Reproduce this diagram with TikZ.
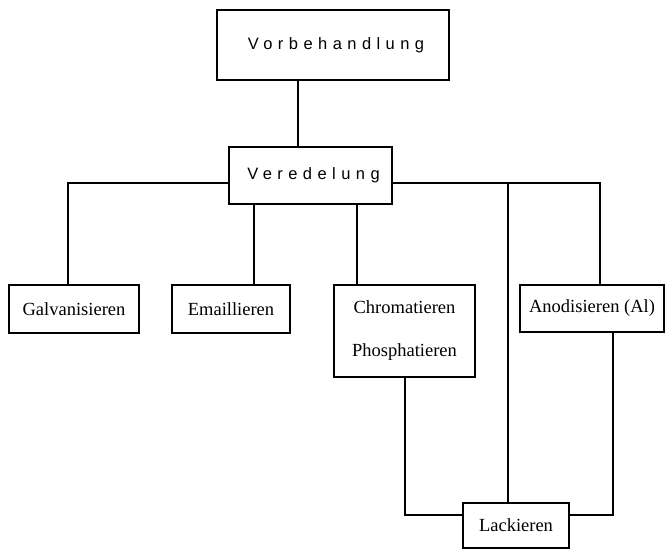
\documentclass[tikz,border=0pt]{standalone}
\usepackage{fontspec}
\setmainfont{Liberation Serif}
\newfontfamily\sperrsans[LetterSpace=33]{Liberation Sans}
\begin{document}
\begin{tikzpicture}[x=1pt,y=-1pt,
        kasten/.style={draw, line width=2.8pt, inner sep=0pt, align=center, font=\fontsize{18.5}{22}\selectfont},
        kopf/.style={kasten, font=\sperrsans\fontsize{16.5}{20}\selectfont},
        linie/.style={line width=2pt}]
    \useasboundingbox (0,0) rectangle (666,549);
    \node[kopf, minimum width=232pt, minimum height=70pt] (vorb) at (333,45) {\hspace{6pt}Vorbehandlung};
    \node[kopf, minimum width=163pt, minimum height=57pt] (vered) at (310.5,175.5) {\hspace{6pt}Veredelung};
    \node[kasten, minimum width=130pt, minimum height=48pt] (galv) at (74,309) {Galvanisieren};
    \node[kasten, minimum width=118pt, minimum height=48pt] (email) at (231,309) {Emaillieren};
    \node[kasten, minimum width=141pt, minimum height=92pt] (chrom) at (404.5,331) {Chromatieren\\[21pt]Phosphatieren};
    \node[kasten, minimum width=144pt, minimum height=47pt] (anod) at (592,308.5) {Anodisieren (Al)};
    \node[kasten, minimum width=106pt, minimum height=45pt] (lack) at (516,525.5) {Lackieren};
    % Verbindungen
    \coordinate (vs) at ([xshift=-35pt]vorb.south);
    \coordinate (li) at ([yshift=-7pt]vered.west);
    \coordinate (re) at ([yshift=-7pt]vered.east);
    \coordinate (es) at ([xshift=23pt]email.north);
    \coordinate (cs) at ([xshift=-47.5pt]chrom.north);
    \coordinate (ls) at ([xshift=-8pt]lack.north);
    \draw[linie] (vs) -- (vs |- vered.north);
    \draw[linie] (li) -| ([xshift=-6pt]galv.north);
    \draw[linie] (es) -- (es |- vered.south);
    \draw[linie] (cs) -- (cs |- vered.south);
    \draw[linie] (re) -| ([xshift=8pt]anod.north);
    \draw[linie] (ls) -- (ls |- re);
    \draw[linie] (chrom.south) |- ([yshift=10.5pt]lack.west);
    \draw[linie] ([xshift=21pt]anod.south) |- ([yshift=10.5pt]lack.east);
\end{tikzpicture}
\end{document}
